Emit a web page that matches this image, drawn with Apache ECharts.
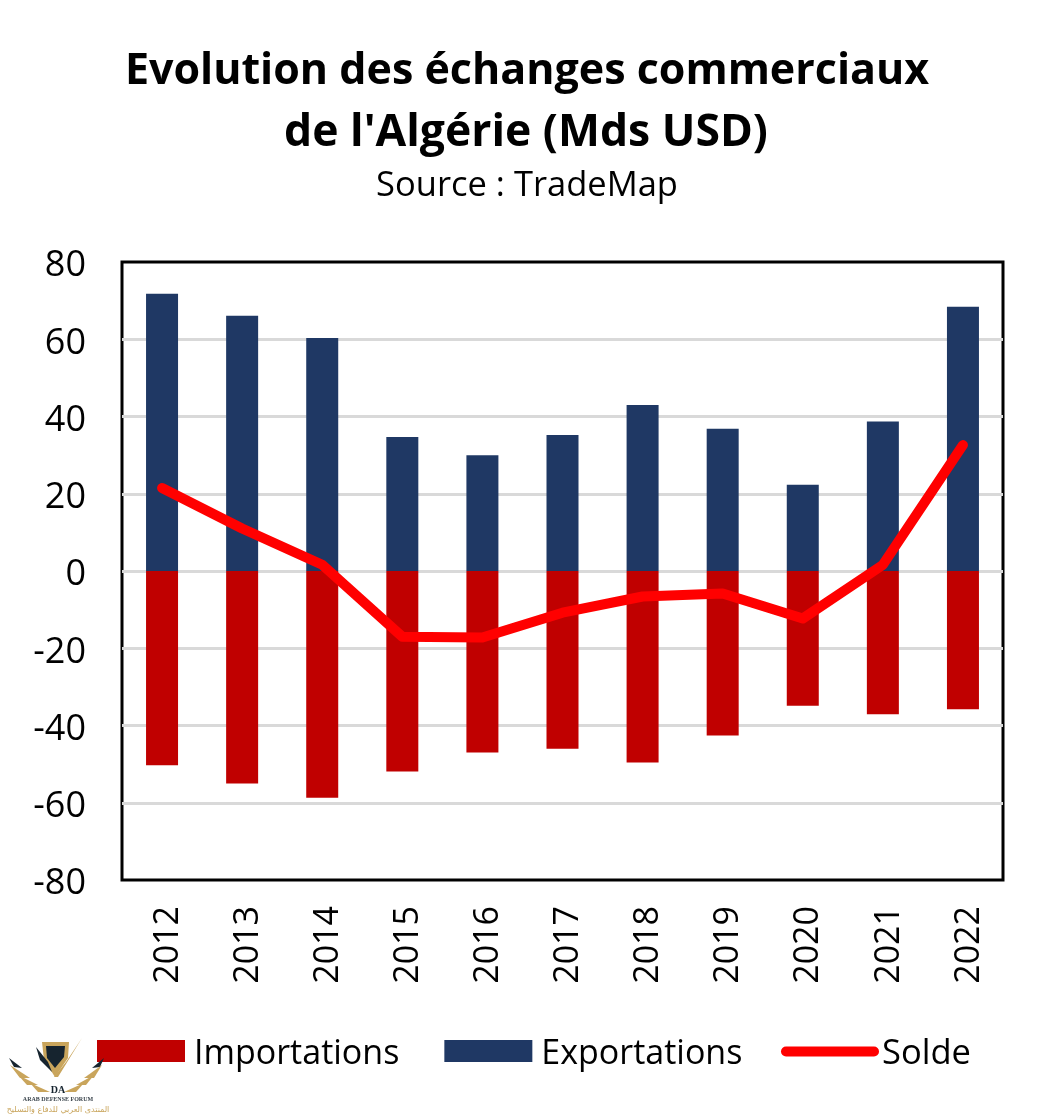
<!DOCTYPE html>
<html lang="fr">
<head>
  <meta charset="UTF-8">
  <title>Evolution des échanges commerciaux de l'Algérie</title>
  <script src="https://cdn.jsdelivr.net/npm/echarts@6/dist/echarts.min.js"></script>
  <style>html, body { margin: 0; background: #fff; }</style>
</head>
<body>
  <div id="main" style="width: 1053px; height: 1118px;"></div>
  <script>
    const years = ['2012', '2013', '2014', '2015', '2016', '2017', '2018', '2019', '2020', '2021', '2022'];
    const importations = [-50.3, -55, -58.7, -51.9, -47, -46, -49.6, -42.6, -34.9, -37.1, -35.8];
    const exportations = [71.8, 66.1, 60.3, 34.7, 30, 35.2, 43, 36.8, 22.3, 38.7, 68.4];
    const solde = [21.5, 11, 1.6, -17, -17.2, -10.8, -6.6, -5.8, -12.3, 1.6, 32.6];

    const font = '"Open Sans", "Noto Sans", sans-serif';
    const gold = '#c9a55c';
    const navy = '#16242f';
    const myChart = echarts.init(document.getElementById('main'));

    // Small forum watermark, bottom left
    function poly(points, fill) {
      return { type: 'polygon', z: 100, shape: { points: points }, style: { fill: fill } };
    }
    function label(text, y, fill, fontCss) {
      return { type: 'text', z: 100, x: 58, y: y, style: { text: text, fill: fill, font: fontCss, align: 'center', verticalAlign: 'middle' } };
    }
    const logo = [
      poly([[42, 1042], [69, 1042], [68, 1058], [55, 1077], [44, 1060]], gold),
      poly([[46, 1046], [65, 1046], [64, 1057], [55, 1068], [47, 1058]], navy),
      poly([[82, 1038], [58, 1077], [54, 1077], [66, 1062]], gold),
      poly([[36, 1047], [48, 1062], [52, 1072], [40, 1060]], navy),
      poly([[9, 1058], [22, 1068], [14, 1067]], navy),
      poly([[104, 1058], [92, 1068], [100, 1067]], navy),
      poly([[10, 1065], [30, 1078], [20, 1078]], gold),
      poly([[102, 1065], [84, 1078], [94, 1078]], gold),
      poly([[18, 1075], [38, 1085], [27, 1085]], gold),
      poly([[94, 1075], [76, 1085], [86, 1085]], gold),
      poly([[30, 1083], [50, 1092], [38, 1092]], gold),
      poly([[84, 1083], [64, 1092], [76, 1092]], gold),
      label('DA', 1090, navy, 'bold 10px "Liberation Serif"'),
      label('ARAB DEFENSE FORUM', 1099, '#3a444c', 'bold 6px "Liberation Serif"'),
      label('المنتدى العربي للدفاع والتسليح', 1110, gold, '8px "DejaVu Sans"')
    ];

    myChart.setOption({
      animation: false,
      backgroundColor: '#fff',
      title: [
        { text: 'Evolution des échanges commerciaux', left: 522, top: 36, textAlign: 'center',
          textStyle: { fontFamily: font, fontSize: 43, fontWeight: 'bold', color: '#000', lineHeight: 62 } },
        { text: 'de l\'Algérie (Mds USD)', left: 521, top: 97, textAlign: 'center',
          textStyle: { fontFamily: font, fontSize: 44.5, fontWeight: 'bold', color: '#000', lineHeight: 62 } },
        { text: 'Source : TradeMap', left: 522, top: 164, textAlign: 'center',
          textStyle: { fontFamily: font, fontSize: 34.5, fontWeight: 'normal', color: '#000' } }
      ],
      legend: [
        {
          top: 1032, left: 92, itemGap: 45, itemWidth: 88, itemHeight: 22,
          formatter: '{a|{name}}',
          textStyle: { rich: { a: { fontFamily: font, fontSize: 34, color: '#000', padding: [6, 0, 0, 4] } } },
          data: [
            { name: 'Importations', icon: 'rect' },
            { name: 'Exportations', icon: 'rect' }
          ]
        },
        {
          top: 1032, left: 776, itemWidth: 88, itemHeight: 22,
          formatter: '{a|{name}}',
          textStyle: { rich: { a: { fontFamily: font, fontSize: 34.5, color: '#000', padding: [6, 0, 0, 3] } } },
          data: [
            { name: 'Solde', itemStyle: { opacity: 0 }, lineStyle: { color: '#ff0000', width: 10, cap: 'round' } }
          ]
        }
      ],
      grid: { left: 122, right: 50, top: 262, bottom: 238, show: true, borderColor: '#000', borderWidth: 3, backgroundColor: 'transparent' },
      xAxis: {
        type: 'category', data: years,
        axisLine: { show: false, onZero: false },
        axisTick: { show: false },
        axisLabel: {
          rotate: 90, margin: 26, interval: 0, formatter: '{a|{value}}',
          rich: { a: { fontFamily: font, fontSize: 34, color: '#000', padding: [12, 0, 0, 0] } }
        }
      },
      yAxis: {
        type: 'value', min: -80, max: 80, interval: 20,
        axisLine: { show: false },
        axisTick: { show: false },
        axisLabel: {
          margin: 36, formatter: '{a|{value}}',
          rich: { a: { fontFamily: font, fontSize: 36, color: '#000', padding: [8, 0, 0, 0] } }
        },
        splitLine: { showMinLine: false, showMaxLine: false, lineStyle: { color: '#d9d9d9', width: 3 } }
      },
      series: [
        { name: 'Importations', type: 'bar', stack: 'echanges', barWidth: 32, data: importations, itemStyle: { color: '#c00000' } },
        { name: 'Exportations', type: 'bar', stack: 'echanges', barWidth: 32, data: exportations, itemStyle: { color: '#1f3864' } },
        { name: 'Solde', type: 'line', data: solde, symbol: 'none', z: 5,
          itemStyle: { color: '#ff0000' }, lineStyle: { color: '#ff0000', width: 10, cap: 'round', join: 'round' } }
      ],
      graphic: logo
    });
  </script>
</body>
</html>
